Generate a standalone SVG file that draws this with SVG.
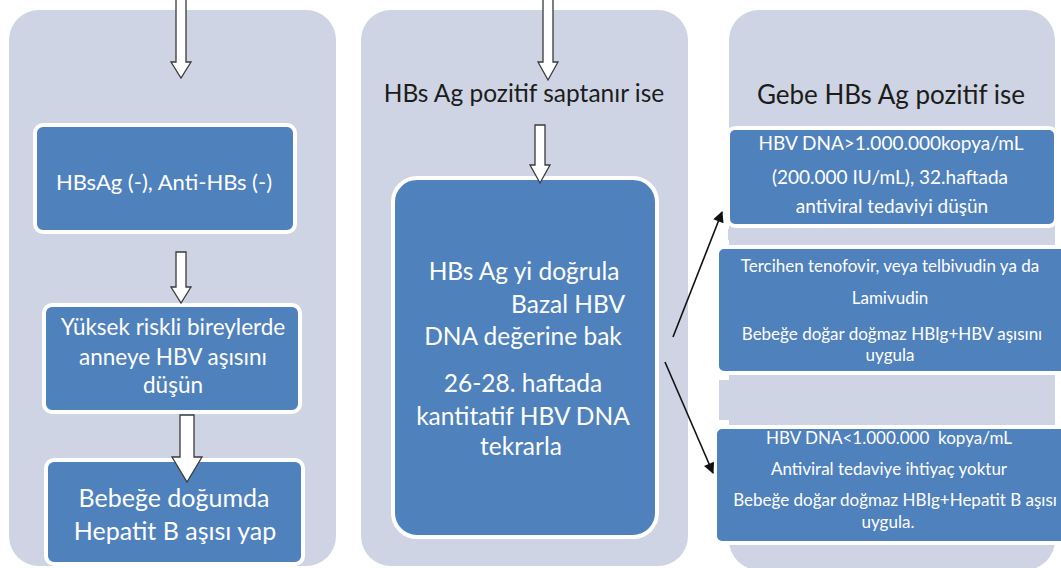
<svg xmlns="http://www.w3.org/2000/svg" width="1061" height="568" viewBox="0 0 1061 568">
<defs>
<style>
.panel{fill:#ced4e3;}
.box{fill:#4f81bd;stroke:#ffffff;stroke-width:4;}
.strip{fill:#ced4e3;}
.wt{fill:#ffffff;font-family:Lato,"Liberation Sans",sans-serif;text-anchor:middle;}
.dk{fill:#1c1c1c;font-family:Lato,"Liberation Sans",sans-serif;text-anchor:middle;}
.hollow{fill:#ffffff;stroke:#3a3a3a;stroke-width:1.3;}
.line{fill:none;stroke:#111111;stroke-width:1.6;}
</style>
<marker id="ah" viewBox="0 0 10 10" refX="9" refY="5" markerWidth="13" markerHeight="11" markerUnits="userSpaceOnUse" orient="auto">
<path d="M0,0 L10,5 L0,10 Z" fill="#111111"/>
</marker>
</defs>
<rect width="1061" height="568" fill="#ffffff"/>
<g id="panel-left"><rect class="panel" x="9" y="10" width="327" height="556" rx="30"/></g>
<g id="panel-mid"><rect class="panel" x="361" y="10" width="327" height="556" rx="30"/></g>
<g id="panel-right"><rect class="panel" x="729" y="10" width="326" height="560" rx="30"/></g>

<g id="n-hbsag-neg">
<rect class="box" x="35" y="125" width="260" height="107" rx="8"/>
<text class="wt" x="164" y="190" font-size="22">HBsAg (-), Anti-HBs (-)</text>
</g>
<g id="n-yuksek">
<rect class="box" x="44" y="305" width="256" height="107" rx="8"/>
<text class="wt" font-size="22.5"><tspan x="173" y="335">Yüksek riskli bireylerde</tspan><tspan x="173" y="365">anneye HBV aşısını</tspan><tspan x="173" y="393">düşün</tspan></text>
</g>
<g id="n-bebege">
<rect class="box" x="46" y="460" width="257" height="104" rx="8"/>
<text class="wt" font-size="25"><tspan x="174" y="507">Bebeğe doğumda</tspan><tspan x="175" y="540">Hepatit B aşısı yap</tspan></text>
</g>

<g id="n-pozitif-label">
<text class="dk" x="524" y="102" font-size="24.5">HBs Ag pozitif saptanır ise</text>
</g>
<g id="n-dogrula">
<rect class="box" x="393" y="178" width="264" height="359" rx="24"/>
<text class="wt" font-size="24.5"><tspan x="524" y="280">HBs Ag yi doğrula</tspan><tspan x="625" y="313" text-anchor="end">Bazal HBV</tspan><tspan x="523" y="345">DNA değerine bak</tspan><tspan x="523" y="392">26-28. haftada</tspan><tspan x="523" y="425">kantitatif HBV DNA</tspan><tspan x="521" y="455">tekrarla</tspan></text>
</g>

<g id="n-gebe-label">
<text class="dk" x="891" y="104" font-size="26">Gebe HBs Ag pozitif ise</text>
</g>
<g id="n-high">
<rect class="box" x="728" y="128" width="328" height="98" rx="7"/>
<text class="wt" font-size="19"><tspan x="891" y="150">HBV DNA&gt;1.000.000kopya/mL</tspan><tspan x="890" y="184">(200.000 IU/mL), 32.haftada</tspan><tspan x="892" y="213">antiviral tedaviyi düşün</tspan></text>
</g>
<rect class="strip" x="728" y="229" width="326" height="11"/>
<g id="n-tenofovir">
<rect class="box" x="717" y="247" width="350" height="126" rx="7"/>
<text class="wt" font-size="17"><tspan x="890" y="272">Tercihen tenofovir, veya telbivudin ya da</tspan><tspan x="890" y="304">Lamivudin</tspan><tspan x="892" y="340">Bebeğe doğar doğmaz HBIg+HBV aşısını</tspan><tspan x="890" y="361">uygula</tspan></text>
</g>
<rect class="strip" x="719" y="380" width="336" height="40"/>
<g id="n-low">
<rect class="box" x="715" y="427" width="352" height="116" rx="7"/>
<text class="wt" font-size="17" style="white-space:pre"><tspan x="889" y="444">HBV DNA&lt;1.000.000  kopya/mL</tspan><tspan x="889" y="475">Antiviral tedaviye ihtiyaç yoktur</tspan><tspan x="895" y="506">Bebeğe doğar doğmaz HBIg+Hepatit B aşısı</tspan><tspan x="888" y="528">uygula.</tspan></text>
</g>

<g id="connectors">
<path class="hollow" d="M176,-2 L186,-2 L186,62 L191,62 L181,78 L171,62 L176,62 Z"/>
<path class="hollow" d="M176,252 L186,252 L186,287 L191,287 L181,303 L171,287 L176,287 Z"/>
<path class="hollow" d="M180,415 L194,415 L194,457 L202,457 L187,482 L172,457 L180,457 Z"/>
<path class="hollow" d="M543,-2 L553,-2 L553,62 L558,62 L548,80 L538,62 L543,62 Z"/>
<path class="hollow" d="M535,125 L545,125 L545,165 L550,165 L540,183 L530,165 L535,165 Z"/>
<line class="line" x1="673" y1="337" x2="722" y2="212" marker-end="url(#ah)"/>
<line class="line" x1="665" y1="362" x2="713" y2="473" marker-end="url(#ah)"/>
</g>
</svg>
